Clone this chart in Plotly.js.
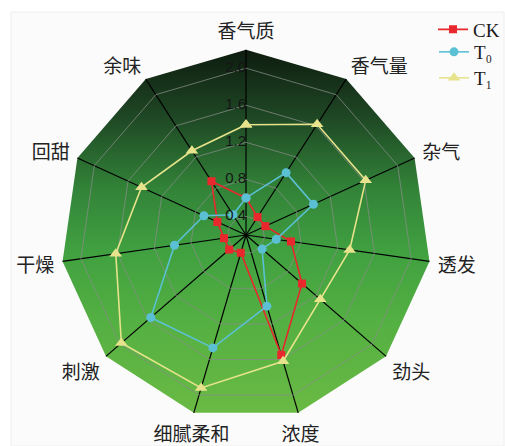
<!DOCTYPE html>
<html>
<head>
<meta charset="utf-8">
<script src="https://cdn.plot.ly/plotly-3.0.1.min.js"></script>
<style>
  html, body { margin: 0; padding: 0; background: #ffffff; }
  #chart { width: 505px; height: 446px; }
</style>
</head>
<body>
<div id="chart"></div>
<script>
// Sensory attributes, clockwise from the top
const categories = ['香气质', '香气量', '杂气', '透发', '劲头', '浓度', '细腻柔和', '刺激', '干燥', '回甜', '余味'];

// Scores per treatment
const ckValues = [0.60, 0.43, 0.43, 0.69, 1.00, 1.55, 0.40, 0.44, 0.44, 0.54, 0.89];
const t0Values = [0.60, 1.00, 1.00, 0.53, 0.43, 1.00, 1.47, 1.56, 0.98, 0.70, 0.46];
const t1Values = [1.39, 1.62, 1.62, 1.33, 1.26, 1.62, 1.92, 1.98, 1.62, 1.44, 1.28];

// Radial scale
const radialRange = [0.2, 2.2];
const radialTicks = [0.4, 0.8, 1.2, 1.6, 2.0];
const radialTickText = ['0.4', '0.8', '1.2', '1.6', '2.0'];

// close each polygon by repeating the first point
function closed(arr) { return arr.concat([arr[0]]); }

function series(name, values, color, symbol, size, legendId) {
  return {
    type: 'scatterpolar',
    mode: 'lines+markers',
    name: name,
    legend: legendId,
    r: closed(values),
    theta: closed(categories),
    line: { color: color, width: 1.6 },
    marker: { color: color, symbol: symbol, size: size },
    cliponaxis: false
  };
}

// radial scale labels, set beside the first spoke
const radialLabels = {
  type: 'scatterpolar',
  mode: 'text',
  r: radialTicks,
  theta: radialTicks.map(function () { return categories[0]; }),
  text: radialTickText,
  textposition: 'middle left',
  textfont: { family: '"Liberation Sans", Arial, sans-serif', size: 15, color: '#151515' },
  showlegend: false,
  hoverinfo: 'skip',
  cliponaxis: false
};

const data = [
  series('CK', ckValues, '#e8282c', 'square', 8, 'legend'),
  series('T\u2080', t0Values, '#5cc0d4', 'circle', 9, 'legend2'),
  series('T\u2081', t1Values, '#e6e38c', 'triangle-up', 11, 'legend3'),
  radialLabels
];

const W = 505, H = 446;
const cx = 246.5, cy = 235, R = 185.7;

function legendAt(yPx) {
  return {
    x: 434 / W, y: 1 - yPx / H,
    xanchor: 'left', yanchor: 'middle',
    bgcolor: 'rgba(0,0,0,0)',
    font: { family: '"Liberation Serif", "Times New Roman", serif', size: 19, color: '#1a1a1a' }
  };
}

const layout = {
  width: W,
  height: H,
  margin: { l: 0, r: 0, t: 0, b: 0 },
  paper_bgcolor: '#ffffff',
  showlegend: true,
  hovermode: false,
  legend: legendAt(29.5),
  legend2: legendAt(52),
  legend3: legendAt(78),
  shapes: [{
    type: 'rect', xref: 'paper', yref: 'paper',
    x0: 11 / W, x1: 1, y0: 0, y1: 1 - 12 / H,
    fillcolor: '#fbfbfb',
    line: { color: '#eeeeee', width: 1 },
    layer: 'below'
  }],
  polar: {
    domain: {
      x: [(cx - R) / W, (cx + R) / W],
      y: [1 - (cy + R) / H, 1 - (cy - R) / H]
    },
    gridshape: 'linear',
    bgcolor: '#3a9a40',
    angularaxis: {
      direction: 'clockwise',
      rotation: 90,
      showline: false,
      ticks: 'outside',
      ticklen: 4,
      tickcolor: 'rgba(0,0,0,0)',
      gridcolor: '#000000',
      gridwidth: 1.2,
      tickfont: { family: '"Noto Sans CJK SC", sans-serif', size: 19, color: '#222222' }
    },
    radialaxis: {
      range: radialRange,
      angle: 90,
      tickvals: radialTicks,
      showticklabels: false,
      ticks: '',
      showline: false,
      gridcolor: 'rgba(135,140,135,0.75)',
      gridwidth: 1
    }
  }
};

// vertical green gradient for the polygon background,
// and centred labels for spokes pointing nearly straight down or up
function finishDrawing(gd) {
  const svgNS = 'http://www.w3.org/2000/svg';
  const defs = gd.querySelector('.main-svg defs');
  if (defs && !defs.querySelector('#polarFill')) {
    const grad = document.createElementNS(svgNS, 'linearGradient');
    grad.setAttribute('id', 'polarFill');
    grad.setAttribute('x1', '0'); grad.setAttribute('y1', '0');
    grad.setAttribute('x2', '0'); grad.setAttribute('y2', '1');
    const stops = [
      [0.00, 'rgb(14,28,15)'],
      [0.18, 'rgb(30,70,36)'],
      [0.38, 'rgb(50,130,56)'],
      [0.55, 'rgb(64,160,64)'],
      [0.75, 'rgb(84,176,66)'],
      [1.00, 'rgb(106,186,68)']
    ];
    stops.forEach(function (s) {
      const st = document.createElementNS(svgNS, 'stop');
      st.setAttribute('offset', s[0]);
      st.setAttribute('stop-color', s[1]);
      grad.appendChild(st);
    });
    defs.appendChild(grad);
  }
  gd.querySelectorAll('.polarsublayer.plotbg path').forEach(function (p) {
    p.style.fill = 'url(#polarFill)';
    p.style.fillOpacity = 1;
  });

  const n = categories.length;
  gd.querySelectorAll('.angularaxistick text').forEach(function (t) {
    const idx = categories.indexOf(t.textContent);
    if (idx < 0) return;
    const deg = 90 - idx * 360 / n;
    const c = Math.cos(deg * Math.PI / 180);
    if (Math.abs(c) < 0.35) t.setAttribute('text-anchor', 'middle');
  });
}

const gd = document.getElementById('chart');
Plotly.newPlot(gd, data, layout, { displayModeBar: false, staticPlot: true }).then(function () {
  finishDrawing(gd);
  gd.on('plotly_afterplot', function () { finishDrawing(gd); });
});
</script>
</body>
</html>
